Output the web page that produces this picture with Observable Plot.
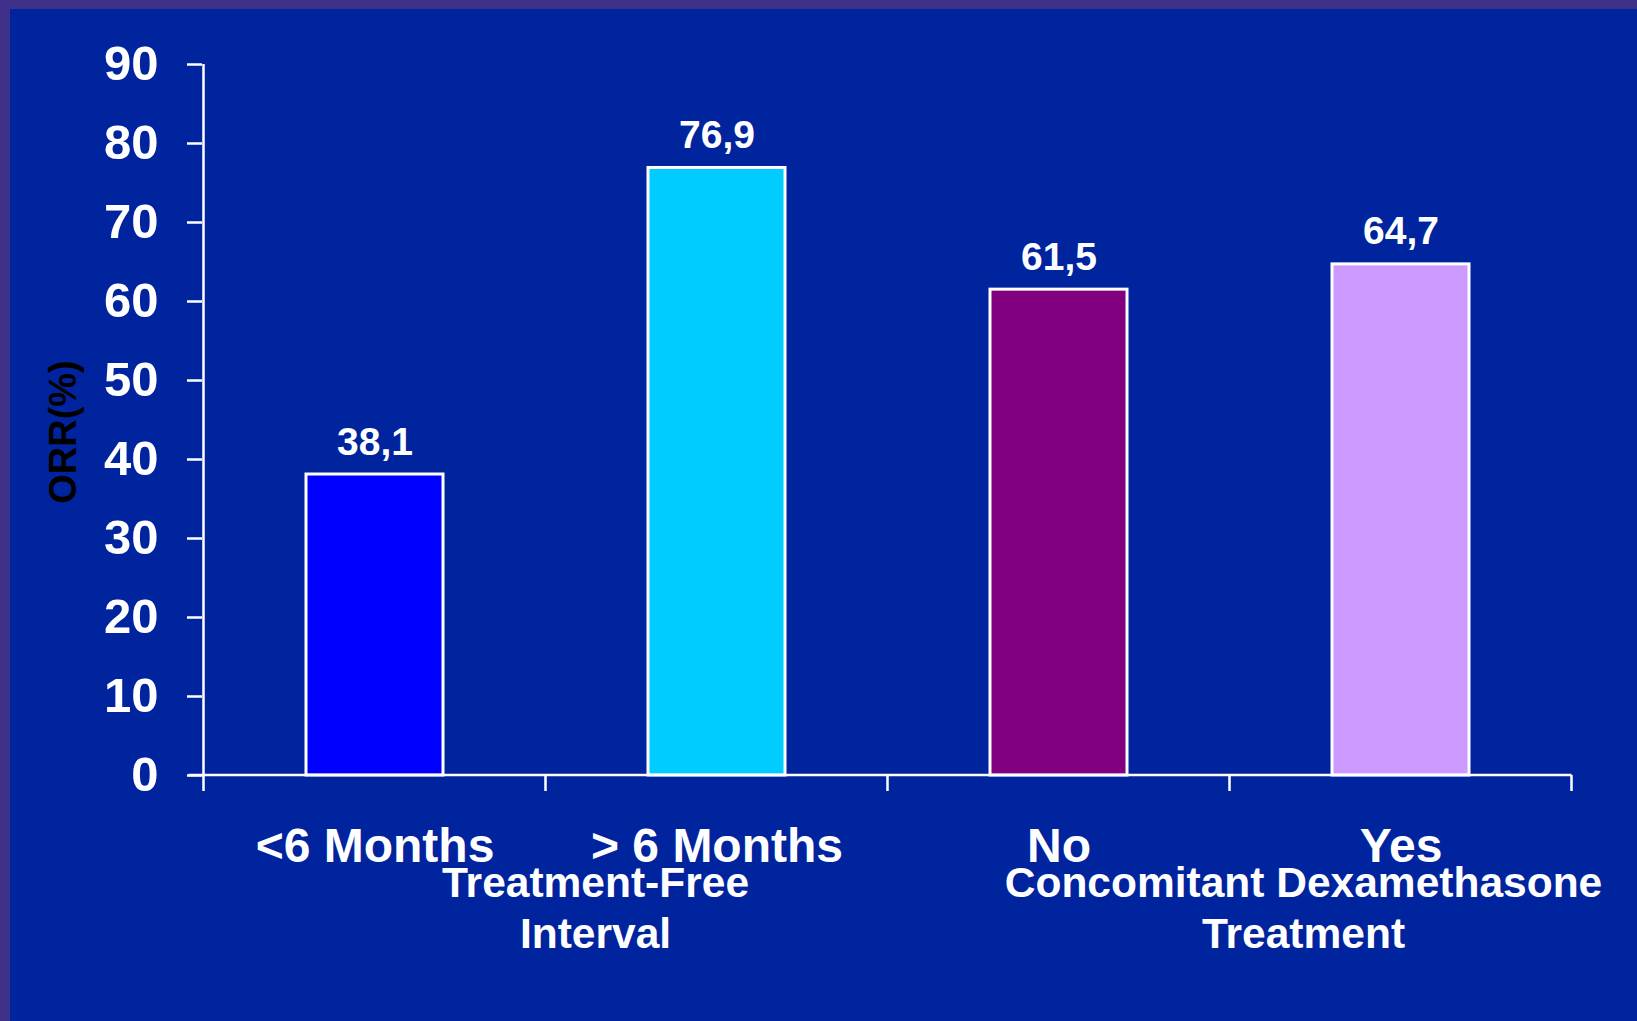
<!DOCTYPE html>
<html>
<head>
<meta charset="utf-8">
<script src="https://cdn.jsdelivr.net/npm/d3@7"></script>
<script src="https://cdn.jsdelivr.net/npm/@observablehq/plot@0.6"></script>
<style>
  html, body { margin: 0; padding: 0; overflow: hidden; }
  body { width: 1637px; height: 1021px; background: #3f3089; position: relative; }
  #panel { position: absolute; left: 10px; top: 9px; right: 0; bottom: 0; background: #00249e; }
  #chart { position: absolute; left: 0; top: 0; }
</style>
</head>
<body>
<div id="panel"></div>
<div id="chart"></div>
<script>
// Overall response rate (%) by subgroup
const categories = ["<6 Months", "> 6 Months", "No", "Yes"];
const orr = [38.1, 76.9, 61.5, 64.7];
const yTicks = [0, 10, 20, 30, 40, 50, 60, 70, 80, 90];
const yLabel = "ORR(%)";
const groupTitles = ["Treatment-Free\nInterval", "Concomitant Dexamethasone\nTreatment"];
const groupMembers = [["<6 Months", "> 6 Months"], ["No", "Yes"]];
const barColors = ["#0000ff", "#00ccff", "#800080", "#cc99ff"];

// horizontal nudge (px) of each group title from its group's centre
const groupTitleShift = [50, 74];

const rows = categories.map((category, i) => ({category, orr: orr[i]}));
const fmt = (v) => v.toFixed(1).replace(".", ",");
const FONT = "'Liberation Sans', Arial, Helvetica, sans-serif";

const val = (s, k) => (typeof s[k] === "function" ? s[k]() : s[k]);

// Axis lines plus the tick marks that separate the category bands
function bandAxisLines(index, scales) {
  const x = scales.x, y = scales.y;
  const step = val(x, "step"), bw = val(x, "bandwidth");
  const half = (step - bw) / 2;
  const edges = [x(categories[0]) - half, ...categories.map((c) => x(c) + bw + half)];
  const y0 = y(0), yTop = y(d3.max(yTicks));
  const g = d3.create("svg:g").attr("stroke", "white").attr("stroke-width", 2.5).attr("fill", "none");
  g.append("line").attr("x1", edges[0]).attr("x2", edges[0]).attr("y1", yTop).attr("y2", y0 + 16);
  g.append("line").attr("x1", edges[0] - 15).attr("x2", edges[edges.length - 1]).attr("y1", y0).attr("y2", y0);
  for (const e of edges.slice(1)) {
    g.append("line").attr("x1", e).attr("x2", e).attr("y1", y0).attr("y2", y0 + 16);
  }
  return g.node();
}

// Two-line group titles under each pair of categories
function groupLabels(index, scales) {
  const x = scales.x, y = scales.y;
  const bw = val(x, "bandwidth");
  const g = d3.create("svg:g")
    .attr("fill", "white")
    .attr("font-size", 42.5)
    .attr("font-weight", "bold")
    .attr("font-family", FONT)
    .attr("text-anchor", "middle");
  groupTitles.forEach((title, i) => {
    const members = groupMembers[i];
    const cx = (x(members[0]) + x(members[members.length - 1]) + bw) / 2 + groupTitleShift[i];
    const t = g.append("text").attr("transform", `translate(${cx},${y(0) + 122})`);
    title.split("\n").forEach((line, j) => {
      t.append("tspan").attr("x", 0).attr("y", j * 51).text(line);
    });
  });
  return g.node();
}

const chart = Plot.plot({
  width: 1637,
  height: 1021,
  marginLeft: 202,
  marginRight: 64,
  marginTop: 64,
  marginBottom: 246,
  style: {
    background: "transparent",
    color: "white",
    fontFamily: FONT,
    fontWeight: "bold",
    fontSize: "48px",
    overflow: "visible"
  },
  x: {type: "band", domain: categories, paddingInner: 0.6, paddingOuter: 0.3, axis: null},
  y: {domain: [0, 90], axis: null},
  color: {domain: categories, range: barColors},
  marks: [
    Plot.barY(rows, {x: "category", y: "orr", fill: "category", stroke: "white", strokeWidth: 3}),
    bandAxisLines,
    Plot.axisY({ticks: yTicks, tickSize: 15, tickPadding: 29, fontSize: 49, fontWeight: "bold", strokeWidth: 2.5, label: null}),
    Plot.axisX({tickSize: 0, tickPadding: 52, fontSize: 48, fontWeight: "bold", label: null}),
    Plot.text(rows, {
      x: "category", y: "orr", text: (d) => fmt(d.orr),
      dy: -20, lineAnchor: "bottom", fill: "white", fontSize: 39, fontWeight: "bold"
    }),
    Plot.text([yLabel], {
      text: (d) => d, frameAnchor: "left", textAnchor: "middle", lineAnchor: "middle",
      rotate: -90, dx: -139, dy: 12,
      fill: "black", fontSize: 38, fontWeight: "bold"
    }),
    groupLabels
  ]
});

document.getElementById("chart").appendChild(chart);
</script>
</body>
</html>
